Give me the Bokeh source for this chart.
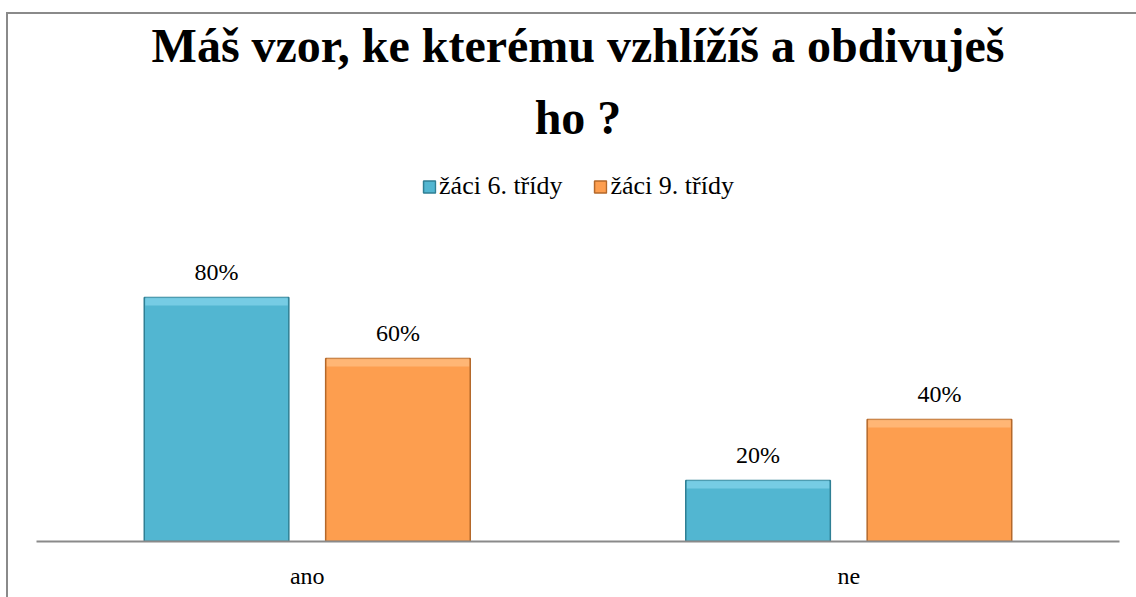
from bokeh.plotting import figure
from bokeh.models import (FactorRange, Range1d, ColumnDataSource, LabelSet, Legend,
                          LegendItem, Title)
from bokeh.core.properties import value
from bokeh.transform import dodge
from bokeh.embed import file_html
from bokeh.resources import INLINE

# ---- data ----
categories = ["ano", "ne"]
series_names = ["žáci 6. třídy", "žáci 9. třídy"]
grade6 = [80, 20]
grade9 = [60, 40]
title_line1 = "Máš vzor, ke kterému vzhlížíš a obdivuješ"
title_line2 = "ho ?"

FONT = "Liberation Serif"
BLUE, BLUE_EDGE, BLUE_HI = "#52B6D1", "#2F7F94", "#86D6EC"
ORANGE, ORANGE_EDGE, ORANGE_HI = "#FD9E4F", "#B4682A", "#FFC186"

src6 = ColumnDataSource(dict(cat=categories, val=grade6,
                             hi=[v - 2.6 for v in grade6],
                             lbl=[f"{v}%" for v in grade6]))
src9 = ColumnDataSource(dict(cat=categories, val=grade9,
                             hi=[v - 2.6 for v in grade9],
                             lbl=[f"{v}%" for v in grade9]))

p = figure(width=1136, height=597, x_range=FactorRange(*categories, range_padding=0),
           y_range=Range1d(0, 124.9), output_backend="svg", toolbar_location=None,
           y_axis_location=None, min_border_left=36, min_border_right=17,
           min_border_bottom=56, min_border_top=160, title=None)
p.x_range.factor_padding = 0
p.outline_line_color = None
p.grid.visible = False
p.background_fill_color = "white"
p.border_fill_alpha = 0
# outer chart border (drawn behind the transparent canvas)
p.styles = {"box-shadow": "inset 6px 12px 0 0 #ffffff, inset 8px 14px 0 0 #8A8A8A",
            "background-color": "#ffffff"}

W = 0.267
OFF = 0.1675
r6 = p.vbar(x=dodge("cat", -OFF, range=p.x_range), top="val", bottom=0, width=W,
            source=src6, fill_color=BLUE, line_color=BLUE_EDGE, line_width=1.5)
p.vbar(x=dodge("cat", -OFF, range=p.x_range), top="val", bottom="hi", width=W * 0.985,
       source=src6, fill_color=BLUE_HI, line_color=None, fill_alpha=0.7)
r9 = p.vbar(x=dodge("cat", OFF, range=p.x_range), top="val", bottom=0, width=W,
            source=src9, fill_color=ORANGE, line_color=ORANGE_EDGE, line_width=1.5)
p.vbar(x=dodge("cat", OFF, range=p.x_range), top="val", bottom="hi", width=W * 0.985,
       source=src9, fill_color=ORANGE_HI, line_color=None, fill_alpha=0.7)

for src, off in ((src6, -OFF), (src9, OFF)):
    p.add_layout(LabelSet(x=dodge("cat", off, range=p.x_range), y="val", text="lbl",
                          source=src, y_offset=17, text_align="center",
                          text_baseline="alphabetic", text_font=value(FONT),
                          text_font_size="24px", text_color="black"))

# title (two centred lines) + an invisible spacer on top
for txt, so, size, alpha in ((title_line2, 34, "48px", 1.0), (title_line1, 0, "48px", 1.0),
                             (".", 0, "1px", 0.0)):
    p.add_layout(Title(text=txt, align="center", text_font=FONT, text_font_style="bold",
                       text_font_size=size, text_color="black", text_alpha=alpha,
                       standoff=so), "above")

# x axis
ax = p.xaxis[0]
ax.axis_line_color = "#8A8A8A"
ax.axis_line_width = 2
ax.major_tick_line_color = None
ax.minor_tick_line_color = None
ax.major_label_text_font = FONT
ax.major_label_text_font_size = "24px"
ax.major_label_text_color = "black"
ax.major_label_standoff = 15

# legend
legend = Legend(items=[LegendItem(label=series_names[0], renderers=[r6]),
                       LegendItem(label=series_names[1], renderers=[r9])],
                orientation="horizontal", location="top", margin=11, padding=4,
                spacing=30, label_standoff=3, glyph_width=15, glyph_height=15,
                label_text_font=FONT, label_text_font_size="26px",
                label_text_color="black",
                border_line_color=None, background_fill_alpha=0)
p.add_layout(legend)

open("out.html", "w").write(file_html(p, INLINE))
